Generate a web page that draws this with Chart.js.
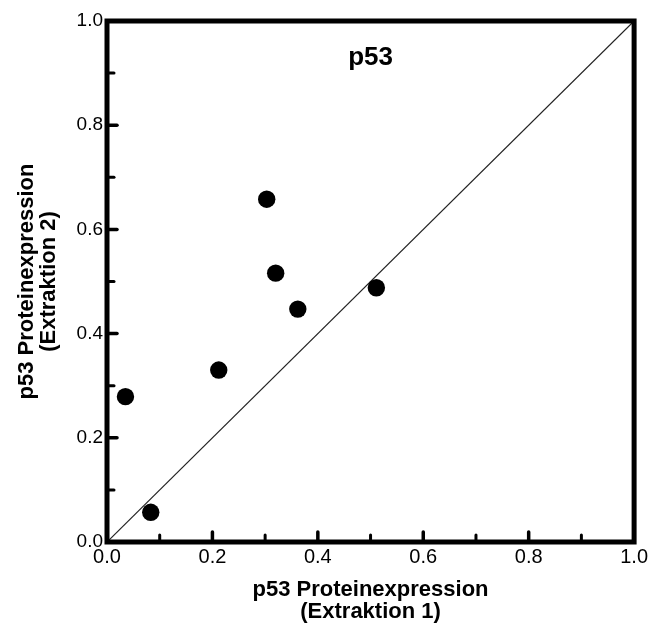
<!DOCTYPE html>
<html>
<head>
<meta charset="utf-8">
<script src="https://cdn.jsdelivr.net/npm/chart.js@4.4.0/dist/chart.umd.min.js"></script>
<style>
  body { margin: 0; background: #fff; }
</style>
</head>
<body>
<canvas id="myChart" width="651" height="626"></canvas>
<script>
// values
const extraktion1 = [0.035, 0.083, 0.212, 0.303, 0.320, 0.362, 0.511];
const extraktion2 = [0.279, 0.057, 0.330, 0.658, 0.516, 0.447, 0.488];
const diagX = [0, 1];
const diagY = [0, 1];
const panelTitle = 'p53';
const xTitle = ['p53 Proteinexpression', '(Extraktion 1)'];
const yTitle = ['p53 Proteinexpression', '(Extraktion 2)'];
const majorTicks = [0, 0.2, 0.4, 0.6, 0.8, 1.0];
const minorTicks = [0.1, 0.3, 0.5, 0.7, 0.9];

const FONT = 'Liberation Sans, Arial, sans-serif';

const ctx = document.getElementById('myChart').getContext('2d');

// frame, inward ticks and the panel title
const framePlugin = {
  id: 'frame',
  afterDraw(chart) {
    const c = chart.ctx;
    const a = chart.chartArea;
    const sx = chart.scales.x, sy = chart.scales.y;
    c.save();
    c.strokeStyle = '#000';
    c.lineCap = 'round';
    majorTicks.forEach(v => {
      c.lineWidth = 3.5;
      let px = sx.getPixelForValue(v);
      c.beginPath(); c.moveTo(px, a.bottom); c.lineTo(px, a.bottom - 10); c.stroke();
      let py = sy.getPixelForValue(v);
      c.beginPath(); c.moveTo(a.left, py); c.lineTo(a.left + 10, py); c.stroke();
    });
    minorTicks.forEach(v => {
      c.lineWidth = 3;
      let px = sx.getPixelForValue(v);
      c.beginPath(); c.moveTo(px, a.bottom); c.lineTo(px, a.bottom - 7); c.stroke();
      let py = sy.getPixelForValue(v);
      c.beginPath(); c.moveTo(a.left, py); c.lineTo(a.left + 7, py); c.stroke();
    });
    c.lineCap = 'butt';
    c.lineWidth = 5;
    c.strokeRect(a.left, a.top, a.right - a.left, a.bottom - a.top);

    c.fillStyle = '#000';
    c.font = 'bold 26px ' + FONT;
    c.textAlign = 'center';
    c.textBaseline = 'alphabetic';
    c.fillText(panelTitle, sx.getPixelForValue(0.5), sy.getPixelForValue(0.916));
    c.restore();
  }
};

let myChart = new Chart(ctx, {
  type: 'scatter',
  data: {
    datasets: [
      {
        data: extraktion1.map((x, i) => ({x: x, y: extraktion2[i]})),
        backgroundColor: '#000',
        borderWidth: 0,
        pointRadius: 8.7,
        order: 1
      },
      {
        type: 'line',
        data: diagX.map((x, i) => ({x: x, y: diagY[i]})),
        borderColor: '#222',
        borderWidth: 1.2,
        pointRadius: 0,
        fill: false,
        order: 2
      }
    ]
  },
  options: {
    responsive: false,
    animation: false,
    layout: { padding: { top: 21, right: 16, left: 0, bottom: 0 } },
    plugins: {
      legend: { display: false },
      tooltip: { enabled: false }
    },
    scales: {
      x: {
        type: 'linear',
        position: 'bottom',
        min: 0,
        max: 1,
        grid: { display: false, drawTicks: false },
        border: { display: false },
        ticks: {
          stepSize: 0.2,
          padding: 3,
          maxRotation: 0,
          color: '#000',
          font: { family: FONT, size: 20 },
          callback: v => v.toFixed(1)
        },
        title: {
          display: true,
          text: xTitle,
          color: '#000',
          font: { family: FONT, size: 22, weight: 'bold', lineHeight: 1 },
          padding: { top: 0, bottom: 3 }
        },
        afterFit: s => { s.height = 84; }
      },
      y: {
        type: 'linear',
        min: 0,
        max: 1,
        grid: { display: false, drawTicks: false },
        border: { display: false },
        ticks: {
          stepSize: 0.2,
          padding: 4,
          color: '#000',
          font: { family: FONT, size: 19 },
          callback: v => v.toFixed(1)
        },
        title: {
          display: true,
          text: yTitle,
          color: '#000',
          font: { family: FONT, size: 22, weight: 'bold', lineHeight: 1 },
          padding: { top: 16, bottom: 0 }
        },
        afterFit: s => { s.width = 107; }
      }
    }
  },
  plugins: [framePlugin]
});
</script>
</body>
</html>
